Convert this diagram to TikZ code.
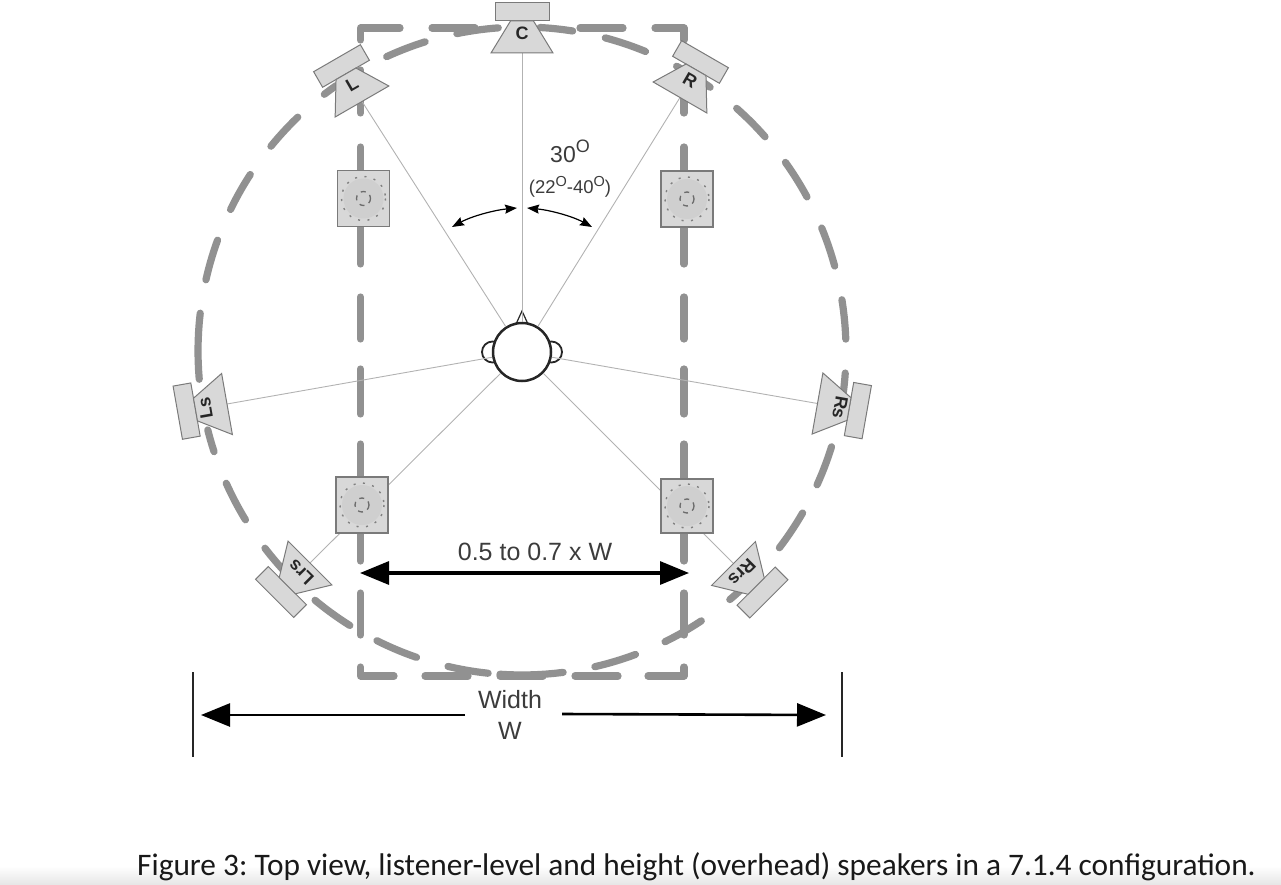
\documentclass[tikz,border=0pt]{standalone}
\usepackage{fontspec}
\setmainfont{Liberation Sans}
\newfontfamily\capfont{Carlito}
\usetikzlibrary{arrows.meta}
\definecolor{dashc}{HTML}{919191}
\definecolor{boxfill}{HTML}{D8D8D8}
\definecolor{boxline}{HTML}{7A7A7A}
\definecolor{inkc}{HTML}{3C3C3C}
\tikzset{
  cdash/.style={draw=dashc,line width=7.2pt,line cap=round,line join=round},
  spkbox/.style={draw=boxline,fill=boxfill,line width=1pt,line join=miter},
  spklabel/.style={inner sep=0pt,text=black!85,font=\fontsize{18}{18}\selectfont\bfseries},
  ohbox/.style={draw=boxline,fill=boxfill,line width=1.5pt,inner sep=0pt},
  ray/.style={draw=black!30,line width=.9pt},
  label/.style={inner sep=0pt,text=inkc,align=center},
  dimarrow/.style={draw=black,line width=2.6pt,-{Triangle[length=29pt,width=23pt]}},
  anglearrow/.style={draw=black,line width=1.2pt,{Stealth[length=12pt,width=9pt,inset=1.5pt]}-{Stealth[length=12pt,width=9pt,inset=1.5pt]}},
  tickline/.style={draw=black!85,line width=2.5pt}
}
\newcommand{\spk}[6]{%
  \coordinate (#1) at (#2,#3);
  \begin{scope}[shift={(#2,#3)},rotate=#4]
    \draw[spkbox] (-27,-50) rectangle (27,-32);
    \draw[spkbox] (-11.5,-32) -- (11.5,-32) -- (31,0) -- (-31,0) -- cycle;
    \node[spklabel,rotate=#4] (#1lab) at (0,-#6) {#5};
  \end{scope}}
\newcommand{\ohs}[5]{%
  \node[ohbox,minimum width=#4pt,minimum height=#5pt] (#1) at (#2,#3) {};
  \fill[black!19] (#1.center) circle (20);
  \draw[black!50,line width=1.4pt,dash pattern=on 2pt off 7.5pt] (#1.center) circle (22);
  \draw[black!58,line width=1.3pt,dash pattern=on 5pt off 5pt] (#1.center) circle (7);}
\begin{document}
\begin{tikzpicture}[x=1pt,y=-1pt]
\useasboundingbox (0,0) rectangle (1281,885);
\shade[top color=white,bottom color=black!10] (0,866) rectangle (1281,885);
% circle dashes
\foreach \a/\b in {-48.5/-41.4,-35.6/-28.4,-22.3/-15.2,-9.1/-2.1,3.9/7.4,17.2/24.4,30/37.4,44.5/50.1,
  56.4/63.8,69.5/77,82.7/93.9,96/103.2,109/116.6,122.1/129.7,137.6/142.5,148.6/155.9,161.9/165.9,
  175/186.7,192.7/200,205.9/213,219.2/226.2,232.4/235,245.3/252.6,258.4/265.8,273.2/279,284.9/292.4,298.5/305.5}
  \draw[cdash] plot[domain=\a:\b,samples=8] ({522+324*cos(\x)},{351+324*sin(\x)});
% square dashes
\draw[cdash] (360.5,40) -- (360.5,28) -- (400,28);
\draw[cdash] (432,28) -- (475,28);
\draw[cdash] (580,28) -- (623,28);
\draw[cdash] (655,28) -- (684,28) -- (684,40);
\foreach \a/\b in {70/113,147/264,297/339,369/414,444/561,593/635} {
  \draw[cdash] (360.5,\a) -- (360.5,\b);
  \draw[cdash] (684,\a) -- (684,\b);
}
\draw[cdash] (360.5,667) -- (360.5,676) -- (394,676);
\draw[cdash] (425,676) -- (468,676);
\draw[cdash] (500,676) -- (543,676);
\draw[cdash] (575,676) -- (618,676);
\draw[cdash] (648,676) -- (684,676) -- (684,667);
% rays
\coordinate (pC) at (522,53);
\coordinate (pL) at (362,101.5);
\coordinate (pR) at (680,97.5);
\coordinate (pLs) at (227,404);
\coordinate (pRs) at (817.5,403.5);
\coordinate (pLrs) at (310,563);
\coordinate (pRrs) at (733.5,563.5);
% head
\draw[draw=black!85,fill=white,line width=1.8pt] (492.5,352) circle (10.5);
\draw[draw=black!85,fill=white,line width=1.8pt] (551.5,352) circle (10.5);
\draw[draw=black!85,fill=white,line width=1.2pt] (516.5,323) -- (522,311) -- (527.5,323) -- cycle;
\node[circle,draw=black!85,fill=white,line width=2.5pt,minimum size=58pt,inner sep=0pt] (head) at (522,352) {};
\foreach \s in {pC,pL,pR,pLs,pRs,pLrs,pRrs} \draw[ray] (\s) -- (head);
% speakers
\spk{spC}{522}{53}{0}{C}{20}
\spk{spL}{362}{101.5}{30}{L}{20}
\spk{spR}{680}{97.5}{-30}{R}{20}
\spk{spLs}{227}{404}{100}{Ls}{22}
\spk{spRs}{817.5}{403.5}{-100}{Rs}{23}
\spk{spLrs}{310}{563}{135}{Lrs}{13}
\spk{spRrs}{733.5}{563.5}{-135}{Rrs}{12}
% overhead
\ohs{ohTL}{363.5}{198.5}{52}{56}
\ohs{ohTR}{687}{199}{52}{56}
\ohs{ohBL}{362}{505}{52}{56}
\ohs{ohBR}{687}{506}{52}{54}
% angle
\coordinate (aL1) at (452,227);
\coordinate (aL2) at (517,208);
\coordinate (aR1) at (527,208);
\coordinate (aR2) at (592,227);
\draw[anglearrow] (aL1) .. controls (472,216) and (495,210) .. (aL2);
\draw[anglearrow] (aR1) .. controls (549,210) and (572,216) .. (aR2);
\node[label,font=\fontsize{23}{24}\selectfont] (ang) at (570,151) {30\raisebox{.42em}{\fontsize{18}{18}\selectfont O}};
\node[label,font=\fontsize{18.5}{20}\selectfont] (rng) at (570,187) {(22\raisebox{.4em}{\fontsize{14.5}{15}\selectfont O}-40\raisebox{.4em}{\fontsize{14.5}{15}\selectfont O})};
% dims
\coordinate (m1) at (360,573);
\coordinate (m2) at (689,573);
\draw[dimarrow,line width=3.2pt,{Triangle[length=29pt,width=23pt]}-{Triangle[length=29pt,width=23pt]}] (m1) -- (m2);
\node[label,font=\fontsize{25}{26}\selectfont] (mid) at (535,551.5) {0.5 to 0.7 x W};
\node[label,font=\fontsize{25}{26}\selectfont] (wid) at (510,699.5) {Width};
\node[label,font=\fontsize{25}{26}\selectfont] (wsym) at (510,731) {W};
\coordinate (w1) at (465,715);
\coordinate (w1e) at (201,715);
\coordinate (w2) at (562,714);
\coordinate (w2e) at (826,715);
\draw[dimarrow] (w1) -- (w1e);
\draw[dimarrow] (w2) -- (w2e);
\coordinate (t1a) at (193,672);
\coordinate (t1b) at (193,757);
\coordinate (t2a) at (842,672);
\coordinate (t2b) at (842,757);
\draw[tickline] (t1a) -- (t1b);
\draw[tickline] (t2a) -- (t2b);
% caption
\node[inner sep=0pt,anchor=base west,text=black!90,font=\capfont\fontsize{31.33}{32}\selectfont] (cap) at (137,875) {\frenchspacing Figure 3: Top view, listener-level and height (overhead) speakers in a 7.1.4 configuration.};
\end{tikzpicture}
\end{document}
